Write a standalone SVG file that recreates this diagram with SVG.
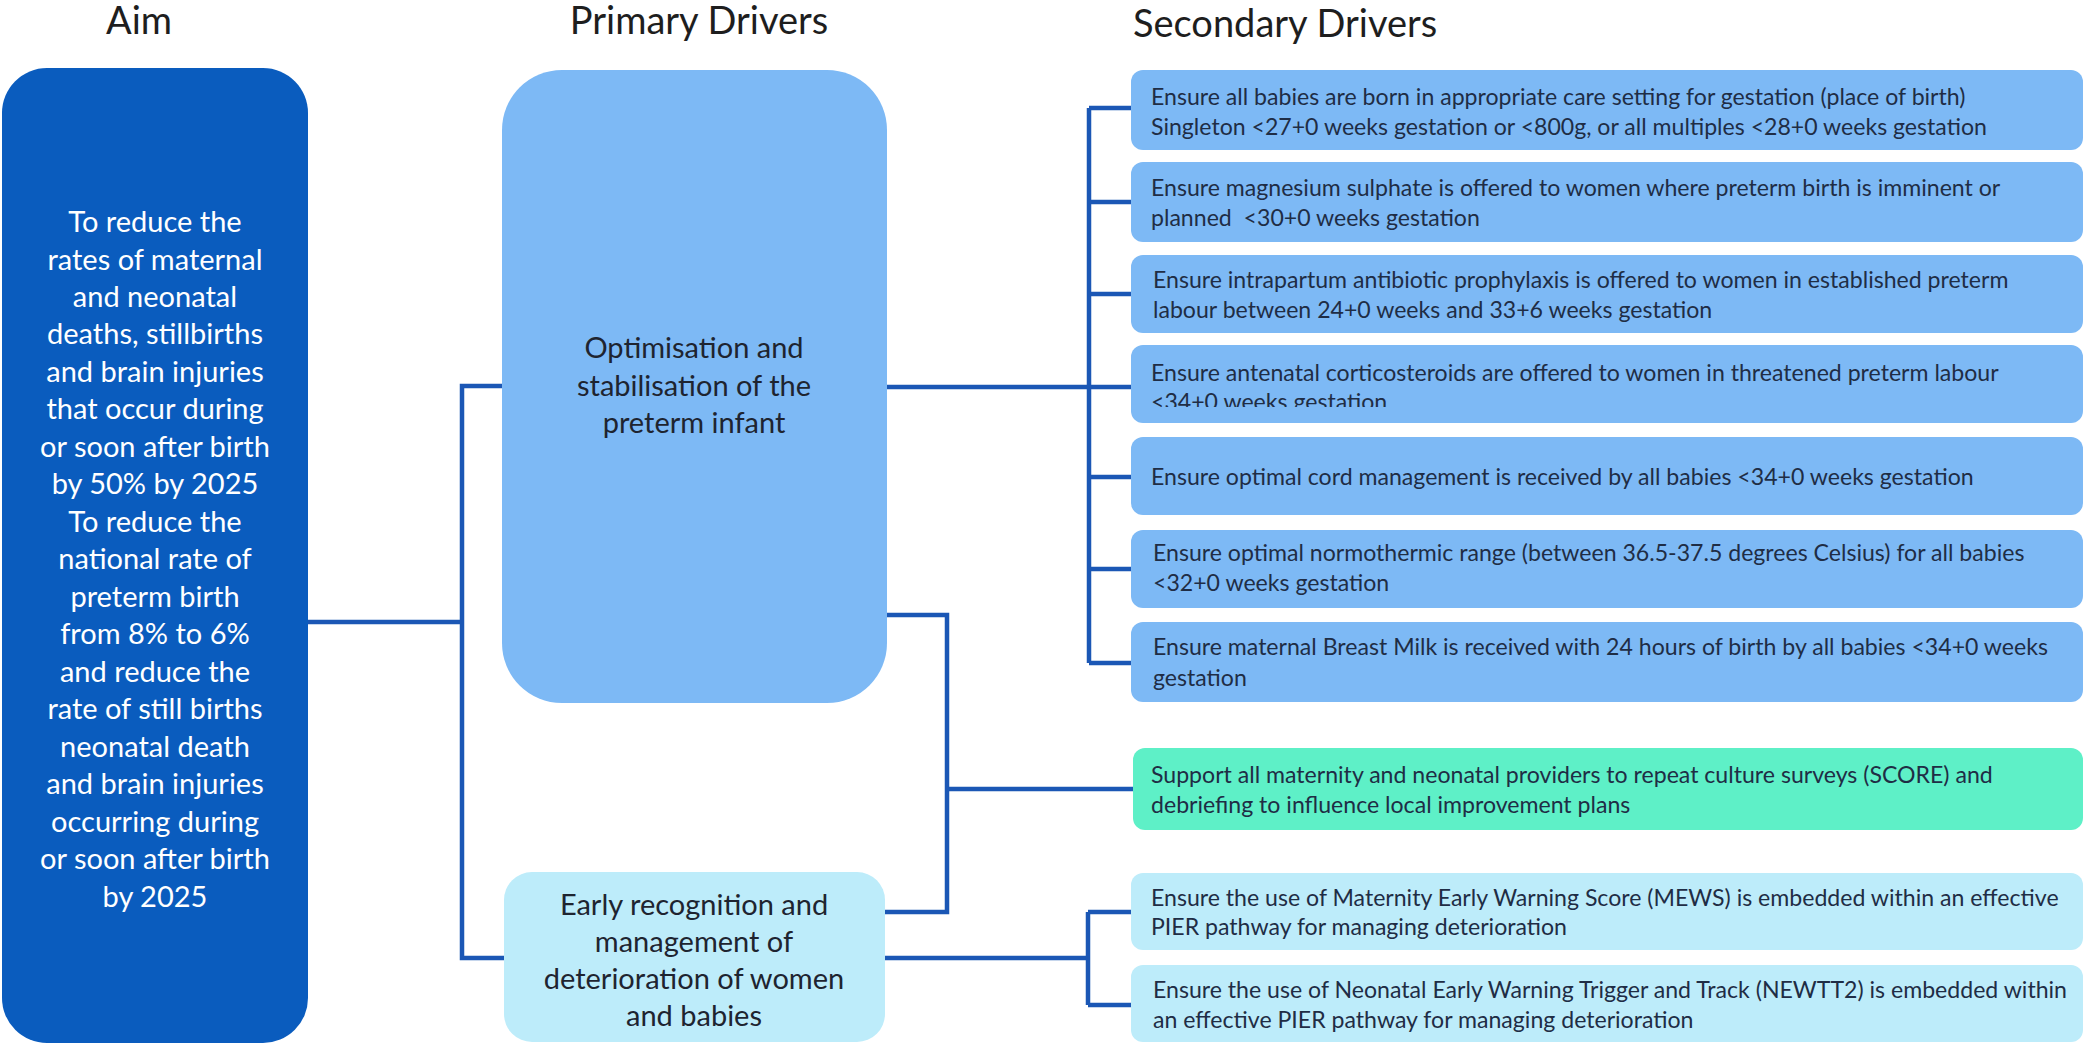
<svg xmlns="http://www.w3.org/2000/svg" width="2085" height="1044" viewBox="0 0 2085 1044">
  <style>
    .hdr { font-family: Lato, "Liberation Sans", sans-serif; font-size: 38px; fill: #1e1e1e; }
    .aim { fill: #0a5cbe; }
    .prim { fill: #7db9f5; }
    .prim2 { fill: #bdecfa; }
    .sec { fill: #7db9f5; }
    .green { fill: #5ef0c7; }
    .light { fill: #bdecfa; }
    .aimtxt { font-family: Lato, "Liberation Sans", sans-serif; font-size: 29px; fill: #ffffff; text-anchor: middle; }
    .ptxt { font-family: Lato, "Liberation Sans", sans-serif; font-size: 29px; fill: #1e2430; text-anchor: middle; }
    .stxt { font-family: Lato, "Liberation Sans", sans-serif; font-size: 23.1px; fill: #1f2d45; }
    .conn { fill: none; stroke: #1b57b5; stroke-width: 4.5; stroke-linejoin: miter; }
  </style>
  <defs>
    <clipPath id="clip-sd4">
      <rect x="1131" y="345" width="952" height="62"/>
    </clipPath>
  </defs>

  <rect width="2085" height="1044" fill="#ffffff"/>

  <!-- column headings -->
  <g id="headings">
    <text class="hdr" x="139" y="34" text-anchor="middle">Aim</text>
    <text class="hdr" x="699" y="34" text-anchor="middle">Primary Drivers</text>
    <text class="hdr" x="1133" y="37">Secondary Drivers</text>
  </g>

  <!-- connectors -->
  <g id="connectors">
    <path class="conn" d="M308,622 H462"/>
    <path class="conn" d="M502,386 H462 V958 H504"/>
    <path class="conn" d="M887,387 H1089"/>
    <path class="conn" d="M1089,108 V663"/>
    <path class="conn" d="M1089,108 H1131 M1089,202 H1131 M1089,294 H1131 M1089,387 H1131 M1089,477 H1131 M1089,569 H1131 M1089,663 H1131"/>
    <path class="conn" d="M887,615 H947 V912 H885"/>
    <path class="conn" d="M947,789 H1133"/>
    <path class="conn" d="M885,958 H1088"/>
    <path class="conn" d="M1088,912 V1005 M1088,912 H1131 M1088,1005 H1131"/>
  </g>

  <!-- aim -->
  <g id="aim">
    <rect class="aim" x="2" y="68" width="306" height="975" rx="45"/>
    <text class="aimtxt" x="155" y="232">To reduce the</text>
    <text class="aimtxt" x="155" y="270">rates of maternal</text>
    <text class="aimtxt" x="155" y="307">and neonatal</text>
    <text class="aimtxt" x="155" y="344">deaths, stillbirths</text>
    <text class="aimtxt" x="155" y="382">and brain injuries</text>
    <text class="aimtxt" x="155" y="419">that occur during</text>
    <text class="aimtxt" x="155" y="457">or soon after birth</text>
    <text class="aimtxt" x="155" y="494">by 50% by 2025</text>
    <text class="aimtxt" x="155" y="532">To reduce the</text>
    <text class="aimtxt" x="155" y="569">national rate of</text>
    <text class="aimtxt" x="155" y="607">preterm birth</text>
    <text class="aimtxt" x="155" y="644">from 8% to 6%</text>
    <text class="aimtxt" x="155" y="682">and reduce the</text>
    <text class="aimtxt" x="155" y="719">rate of still births</text>
    <text class="aimtxt" x="155" y="757">neonatal death</text>
    <text class="aimtxt" x="155" y="794">and brain injuries</text>
    <text class="aimtxt" x="155" y="832">occurring during</text>
    <text class="aimtxt" x="155" y="869">or soon after birth</text>
    <text class="aimtxt" x="155" y="907">by 2025</text>
  </g>

  <!-- primary drivers -->
  <g id="primary-1">
    <rect class="prim" x="502" y="70" width="385" height="633" rx="60"/>
    <text class="ptxt" x="694" y="358">Optimisation and</text>
    <text class="ptxt" x="694" y="396">stabilisation of the</text>
    <text class="ptxt" x="694" y="433">preterm infant</text>
  </g>
  <g id="primary-2">
    <rect class="prim2" x="504" y="872" width="381" height="170" rx="28"/>
    <text class="ptxt" x="694" y="915">Early recognition and</text>
    <text class="ptxt" x="694" y="952">management of</text>
    <text class="ptxt" x="694" y="989">deterioration of women</text>
    <text class="ptxt" x="694" y="1026">and babies</text>
  </g>

  <!-- secondary drivers -->
  <g id="secondary-1">
    <rect class="sec" x="1131" y="70" width="952" height="80" rx="12"/>
    <text class="stxt" x="1151" y="105">Ensure all babies are born in appropriate care setting for gestation (place of birth)</text>
    <text class="stxt" x="1151" y="135">Singleton &lt;27+0 weeks gestation or &lt;800g, or all multiples &lt;28+0 weeks gestation</text>
  </g>
  <g id="secondary-2">
    <rect class="sec" x="1131" y="162" width="952" height="80" rx="12"/>
    <text class="stxt" x="1151" y="196">Ensure magnesium sulphate is offered to women where preterm birth is imminent or</text>
    <text class="stxt" x="1151" y="226" xml:space="preserve">planned  &lt;30+0 weeks gestation</text>
  </g>
  <g id="secondary-3">
    <rect class="sec" x="1131" y="255" width="952" height="78" rx="12"/>
    <text class="stxt" x="1153" y="288">Ensure intrapartum antibiotic prophylaxis is offered to women in established preterm</text>
    <text class="stxt" x="1153" y="318">labour between 24+0 weeks and 33+6 weeks gestation</text>
  </g>
  <g id="secondary-4">
    <rect class="sec" x="1131" y="345" width="952" height="78" rx="12"/>
    <text class="stxt" x="1151" y="381">Ensure antenatal corticosteroids are offered to women in threatened preterm labour</text>
    <text class="stxt" x="1151" y="410" clip-path="url(#clip-sd4)">&lt;34+0 weeks gestation</text>
  </g>
  <g id="secondary-5">
    <rect class="sec" x="1131" y="437" width="952" height="78" rx="12"/>
    <text class="stxt" x="1151" y="485">Ensure optimal cord management is received by all babies &lt;34+0 weeks gestation</text>
  </g>
  <g id="secondary-6">
    <rect class="sec" x="1131" y="530" width="952" height="78" rx="12"/>
    <text class="stxt" x="1153" y="561">Ensure optimal normothermic range (between 36.5-37.5 degrees Celsius) for all babies</text>
    <text class="stxt" x="1153" y="591">&lt;32+0 weeks gestation</text>
  </g>
  <g id="secondary-7">
    <rect class="sec" x="1131" y="622" width="952" height="80" rx="12"/>
    <text class="stxt" x="1153" y="655">Ensure maternal Breast Milk is received with 24 hours of birth by all babies &lt;34+0 weeks</text>
    <text class="stxt" x="1153" y="686">gestation</text>
  </g>
  <g id="secondary-culture">
    <rect class="green" x="1133" y="748" width="950" height="82" rx="12"/>
    <text class="stxt" x="1151" y="783">Support all maternity and neonatal providers to repeat culture surveys (SCORE) and</text>
    <text class="stxt" x="1151" y="813">debriefing to influence local improvement plans</text>
  </g>
  <g id="secondary-mews">
    <rect class="light" x="1131" y="873" width="952" height="77" rx="12"/>
    <text class="stxt" x="1151" y="906">Ensure the use of Maternity Early Warning Score (MEWS) is embedded within an effective</text>
    <text class="stxt" x="1151" y="935">PIER pathway for managing deterioration</text>
  </g>
  <g id="secondary-newtt2">
    <rect class="light" x="1131" y="965" width="952" height="77" rx="12"/>
    <text class="stxt" x="1153" y="998">Ensure the use of Neonatal Early Warning Trigger and Track (NEWTT2) is embedded within</text>
    <text class="stxt" x="1153" y="1028">an effective PIER pathway for managing deterioration</text>
  </g>
</svg>
